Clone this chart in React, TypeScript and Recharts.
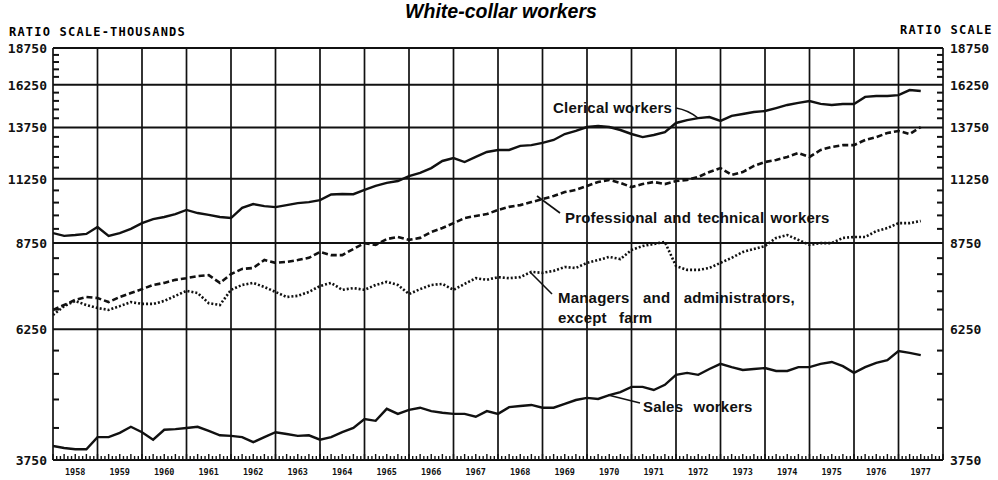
import React from 'react';
import { LineChart, Line, XAxis, YAxis, ReferenceLine } from 'recharts';

// Employment, thousands, quarterly from Jan 1958 (ratio scale)
const years = [1958, 1959, 1960, 1961, 1962, 1963, 1964, 1965, 1966, 1967, 1968, 1969, 1970, 1971, 1972, 1973, 1974, 1975, 1976, 1977];
const yTicks = [3750, 6250, 8750, 11250, 13750, 16250, 18750];

const clerical = [
  9100, 9000, 9030, 9070, 9320, 9000, 9100, 9250, 9460, 9610,
  9690, 9800, 9960, 9840, 9770, 9690, 9650, 10040, 10190, 10110,
  10070, 10150, 10230, 10270, 10350, 10580, 10600, 10590, 10770, 10940,
  11070, 11150, 11370, 11510, 11730, 12060, 12200, 12010, 12250, 12490,
  12590, 12590, 12790, 12830, 12940, 13090, 13400, 13560, 13770, 13830,
  13770, 13610, 13400, 13240, 13350, 13500, 13990, 14150, 14260, 14320,
  14100, 14380, 14490, 14600, 14660, 14830, 15010, 15130, 15240, 15070,
  15010, 15070, 15070, 15490, 15540, 15540, 15600, 15910, 15850,
];

const professional = [
  6740, 6870, 7010, 7090, 7060, 6950, 7090, 7200, 7310, 7430,
  7490, 7580, 7630, 7690, 7720, 7490, 7750, 7910, 7940, 8190,
  8100, 8130, 8190, 8260, 8450, 8350, 8350, 8550, 8750, 8690,
  8890, 8960, 8860, 8930, 9140, 9280, 9460, 9650, 9730, 9800,
  9960, 10080, 10150, 10270, 10390, 10520, 10680, 10770, 10940, 11110,
  11200, 11070, 10890, 11020, 11110, 11020, 11150, 11200, 11330, 11550,
  11730, 11420, 11550, 11830, 12010, 12110, 12250, 12440, 12250, 12590,
  12740, 12830, 12830, 13090, 13240, 13450, 13560, 13400, 13770,
];

const managers = [
  6610, 6840, 6980, 6870, 6790, 6740, 6840, 6950, 6900, 6900,
  6980, 7120, 7260, 7200, 6920, 6870, 7290, 7430, 7490, 7370,
  7230, 7090, 7120, 7230, 7400, 7490, 7290, 7340, 7290, 7430,
  7520, 7430, 7170, 7310, 7430, 7460, 7290, 7460, 7630, 7580,
  7660, 7630, 7660, 7820, 7790, 7850, 7970, 7940, 8100, 8190,
  8290, 8220, 8520, 8650, 8720, 8790, 8000, 7880, 7880, 7940,
  8100, 8260, 8450, 8550, 8650, 8930, 9030, 8860, 8690, 8750,
  8750, 8930, 8960, 8960, 9170, 9280, 9460, 9460, 9540,
];

const sales = [
  3960, 3930, 3910, 3910, 4100, 4100, 4170, 4270, 4180, 4060,
  4220, 4230, 4250, 4270, 4200, 4130, 4120, 4100, 4020, 4100,
  4180, 4150, 4120, 4130, 4060, 4100, 4180, 4250, 4400, 4370,
  4580, 4490, 4560, 4600, 4540, 4510, 4490, 4490, 4440, 4540,
  4490, 4610, 4630, 4650, 4600, 4600, 4670, 4740, 4780, 4760,
  4830, 4890, 4990, 4990, 4930, 5030, 5230, 5270, 5230, 5350,
  5460, 5390, 5330, 5350, 5370, 5310, 5310, 5390, 5390, 5460,
  5500, 5410, 5270, 5390, 5480, 5540, 5740, 5700, 5650,
];

const rows = clerical.map((v, i) => ({
  t: years[0] + i / 4,
  clerical: v,
  professional: professional[i],
  managers: managers[i],
  sales: sales[i],
}));

const lastYear = years[years.length - 1] + 1;
const gridYears = [...years, lastYear];
// month marks along the bottom, 500-thousand marks along the sides
const monthTicks = Array.from({ length: (lastYear - years[0]) * 12 + 1 }, (_, i) => years[0] + i / 12);
const sideTicks = Array.from({ length: 31 }, (_, i) => 3750 + i * 500);

const INK = '#111';
const mono = '"DejaVu Sans Mono", monospace';
const sans = '"Liberation Sans", Arial, sans-serif';

const LeftTick = (props: any) => {
  const { x, y, payload } = props;
  const ax = x + 5;
  if (yTicks.includes(payload.value)) {
    return (
      <text x={x - 1} y={y} dy={5} textAnchor="end" fontFamily={mono} fontWeight="bold" fontSize={13} fill={INK}>
        {payload.value}
      </text>
    );
  }
  return <line x1={ax} x2={ax + 6} y1={y} y2={y} stroke={INK} strokeWidth={2} />;
};

const RightTick = (props: any) => {
  const { x, y, payload } = props;
  const ax = x - 5;
  if (yTicks.includes(payload.value)) {
    return (
      <text x={x + 2} y={y} dy={5} textAnchor="start" fontFamily={mono} fontWeight="bold" fontSize={13} fill={INK}>
        {payload.value}
      </text>
    );
  }
  return <line x1={ax} x2={ax - 6} y1={y} y2={y} stroke={INK} strokeWidth={2} />;
};

const BottomTick = (props: any) => {
  const { x, y, index } = props;
  const m = index % 12;
  return (
    <g>
      <line x1={x} x2={x} y1={y} y2={y - (m % 3 === 0 ? 6 : 4)} stroke={INK} strokeWidth={1.4} />
      {m === 6 && (
        <text x={x} y={y + 15} textAnchor="middle" fontFamily={mono} fontWeight="bold" fontSize={8.5} fill={INK}>
          {years[Math.floor(index / 12)]}
        </text>
      )}
    </g>
  );
};

const labelStyle = { fontFamily: sans, fontWeight: 700, fontSize: 15, letterSpacing: 0.2, fill: INK } as const;

export default function App() {
  return (
    <div style={{ position: 'absolute', left: 0, top: 0, width: 998, height: 480, background: '#fff' }}>
      <div style={{ position: 'absolute', left: 0, width: 1002, top: 0, textAlign: 'center', fontFamily: sans, fontWeight: 700, fontStyle: 'italic', fontSize: 19.5 }}>
        White-collar workers
      </div>
      <div style={{ position: 'absolute', left: 9, top: 25, fontFamily: mono, fontWeight: 700, fontSize: 12, letterSpacing: 1.2 }}>
        RATIO SCALE-THOUSANDS
      </div>
      <div style={{ position: 'absolute', left: 900, top: 23, fontFamily: mono, fontWeight: 700, fontSize: 12, letterSpacing: 1.2 }}>
        RATIO SCALE
      </div>

      <LineChart width={998} height={480} data={rows} margin={{ top: 48, right: 0, bottom: 0, left: 0 }}>
        <XAxis
          type="number"
          dataKey="t"
          domain={[years[0], lastYear]}
          ticks={monthTicks}
          interval={0}
          tick={BottomTick}
          tickSize={0}
          tickMargin={0}
          tickLine={false}
          axisLine={false}
          height={20}
          allowDataOverflow
        />
        <YAxis
          yAxisId="l"
          type="number"
          scale="log"
          domain={[3750, 18750]}
          ticks={sideTicks}
          interval={0}
          tick={LeftTick}
          tickSize={0}
          tickMargin={5}
          tickLine={false}
          axisLine={false}
          width={53}
          allowDataOverflow
        />
        <YAxis
          yAxisId="r"
          orientation="right"
          type="number"
          scale="log"
          domain={[3750, 18750]}
          ticks={sideTicks}
          interval={0}
          tick={RightTick}
          tickSize={0}
          tickMargin={5}
          tickLine={false}
          axisLine={false}
          width={55}
          allowDataOverflow
        />

        {gridYears.map((yr) => (
          <ReferenceLine key={`v${yr}`} yAxisId="l" x={yr} stroke={INK} strokeWidth={1.7} />
        ))}
        {yTicks.map((v) => (
          <ReferenceLine key={`h${v}`} yAxisId="l" y={v} stroke={INK} strokeWidth={2} />
        ))}

        <Line yAxisId="l" type="linear" dataKey="clerical" stroke={INK} strokeWidth={2.4} dot={false} isAnimationActive={false} />
        <Line yAxisId="l" type="linear" dataKey="professional" stroke={INK} strokeWidth={2.6} strokeDasharray="6 3" dot={false} isAnimationActive={false} />
        <Line yAxisId="l" type="linear" dataKey="managers" stroke={INK} strokeWidth={2.6} strokeDasharray="2 2" dot={false} isAnimationActive={false} />
        <Line yAxisId="l" type="linear" dataKey="sales" stroke={INK} strokeWidth={2.4} dot={false} isAnimationActive={false} />
      </LineChart>

      <svg width={998} height={480} style={{ position: 'absolute', left: 0, top: 0, pointerEvents: 'none' }}>
        <text x={553} y={113} {...labelStyle}>Clerical workers</text>
        <path d="M676 108 Q688 110 698 118" stroke={INK} strokeWidth={1.6} fill="none" />
        <text x={565} y={223} {...labelStyle} wordSpacing={2}>Professional and technical workers</text>
        <line x1={537} y1={196} x2={560} y2={213} stroke={INK} strokeWidth={1.6} />
        <text x={558} y={303} {...labelStyle} wordSpacing={9}>Managers and administrators,</text>
        <text x={558} y={323} {...labelStyle} wordSpacing={8}>except farm</text>
        <line x1={530} y1={272} x2={552} y2={294} stroke={INK} strokeWidth={1.6} />
        <text x={643} y={412} {...labelStyle} wordSpacing={6}>Sales workers</text>
        <line x1={608} y1={395} x2={640} y2={403} stroke={INK} strokeWidth={1.6} />
      </svg>
    </div>
  );
}
